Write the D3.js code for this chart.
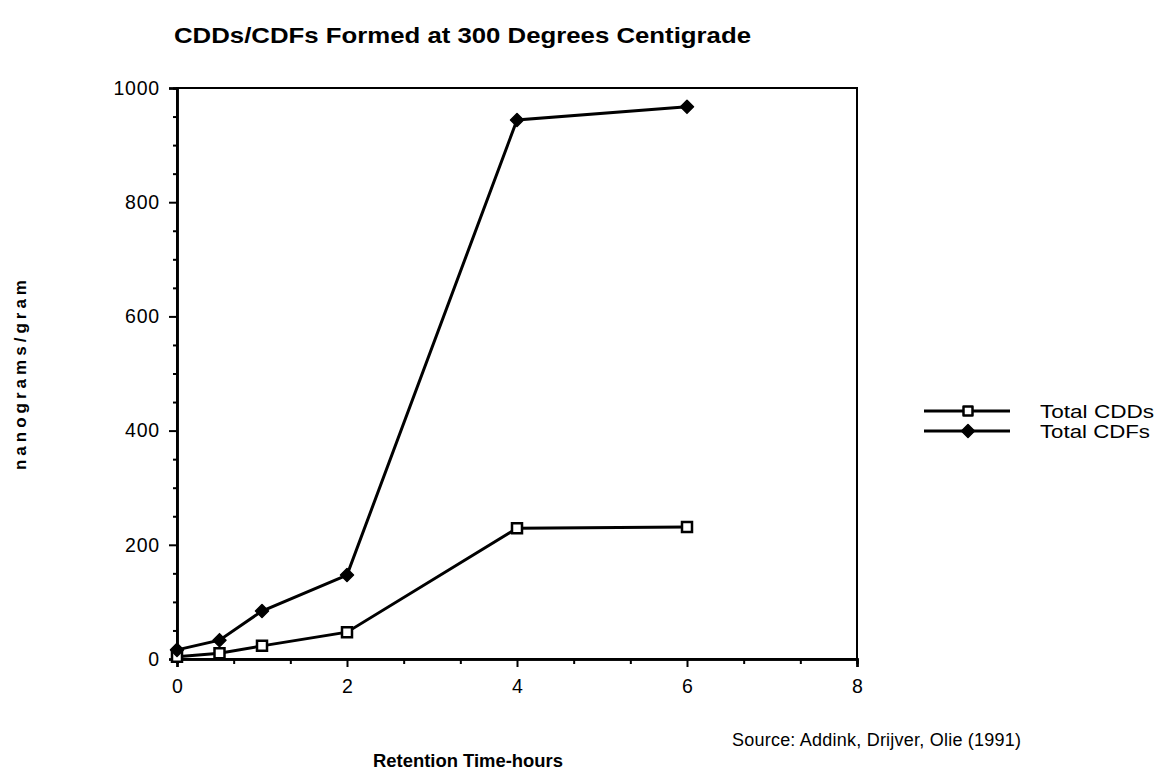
<!DOCTYPE html>
<html><head><meta charset="utf-8">
<script src="https://cdn.jsdelivr.net/npm/d3@7"></script>
<style>body{margin:0;background:#fff}svg{display:block}</style>
</head><body>
<script>
const hours = [0, 0.5, 1, 2, 4, 6];
const cdds = [4, 10, 23, 47, 229, 231];
const cdfs = [16, 33, 84, 147, 944, 967];
const seriesNames = ["Total CDDs", "Total CDFs"];
const xTicks = [0, 2, 4, 6, 8];
const yTicks = [0, 200, 400, 600, 800, 1000];
const titleText = "CDDs/CDFs Formed at 300 Degrees Centigrade";
const xLabel = "Retention Time-hours";
const yLabel = "nanograms/gram";
const sourceText = "Source: Addink, Drijver, Olie (1991)";

const W = 1162, H = 776;
const m = {l: 177, r: 857, t: 88, b: 659};
const svg = d3.select("body").append("svg").attr("width", W).attr("height", H);
const font = "Arial, 'Liberation Sans', Helvetica, sans-serif";

const x = d3.scaleLinear().domain([0, 8]).range([m.l, m.r]);
const y = d3.scaleLinear().domain([0, 1000]).range([m.b, m.t]);

// frame
svg.append("rect").attr("x", m.l).attr("y", m.t).attr("width", m.r - m.l).attr("height", m.b - m.t)
  .attr("fill", "none").attr("stroke", "#000").attr("stroke-width", 2);

// y axis
const yAx = svg.append("g").attr("transform", `translate(${m.l},0)`)
  .call(d3.axisLeft(y).tickValues(yTicks).tickSize(8).tickPadding(9).tickFormat(d3.format("d")));
const yMinor = svg.append("g").attr("transform", `translate(${m.l},0)`)
  .call(d3.axisLeft(y).tickValues(d3.range(0, 1001, 50).filter(v => v % 200 !== 0)).tickSize(4).tickFormat(""));
// x axis
const xAx = svg.append("g").attr("transform", `translate(0,${m.b})`)
  .call(d3.axisBottom(x).tickValues(xTicks).tickSize(8).tickPadding(12).tickFormat(d3.format("d")));
const xMinor = svg.append("g").attr("transform", `translate(0,${m.b})`)
  .call(d3.axisBottom(x).tickValues(d3.range(0, 12).map(i => i * 2 / 3).filter((v, i) => i % 3 !== 0 && v < 8)).tickSize(5).tickFormat(""));
[yAx, yMinor, xAx, xMinor].forEach(g => {
  g.select(".domain").attr("stroke", "#000").attr("stroke-width", 2.5);
  g.selectAll(".tick line").attr("stroke", "#000").attr("stroke-width", 2);
  g.selectAll("text").attr("font-family", font).attr("font-size", 19.5).attr("letter-spacing", 0.8).attr("fill", "#000");
});
xAx.selectAll("text").attr("dx", 0.4);

const line = d3.line().x(d => x(d[0])).y(d => y(d[1]));
const cddPts = hours.map((h, i) => [h, cdds[i]]);
const cdfPts = hours.map((h, i) => [h, cdfs[i]]);

svg.append("path").attr("d", line(cddPts)).attr("fill", "none").attr("stroke", "#000").attr("stroke-width", 3);
svg.append("path").attr("d", line(cdfPts)).attr("fill", "none").attr("stroke", "#000").attr("stroke-width", 3);

const sqPath = "M-5,-5H5V5H-5Z";
const diaPath = "M0,-6.5L6.5,0L0,6.5L-6.5,0Z";
svg.selectAll(".cdd").data(cddPts).join("path").attr("class", "cdd")
  .attr("transform", d => `translate(${x(d[0])},${y(d[1])})`).attr("d", sqPath)
  .attr("fill", "#fff").attr("stroke", "#000").attr("stroke-width", 2.5);
svg.selectAll(".cdf").data(cdfPts).join("path").attr("class", "cdf")
  .attr("transform", d => `translate(${x(d[0])},${y(d[1])})`).attr("d", diaPath)
  .attr("fill", "#000").attr("stroke", "#000").attr("stroke-width", 1.5).attr("stroke-linejoin", "round");

// legend
const lg = svg.append("g");
seriesNames.forEach((name, i) => {
  const ly = 411 + i * 20;
  lg.append("line").attr("x1", 924).attr("x2", 1010).attr("y1", ly).attr("y2", ly).attr("stroke", "#000").attr("stroke-width", 3);
  lg.append("path").attr("transform", `translate(968,${ly})`).attr("d", i === 0 ? "M-4.5,-4.5H4.5V4.5H-4.5Z" : diaPath)
    .attr("fill", i === 0 ? "#fff" : "#000").attr("stroke", "#000").attr("stroke-width", i === 0 ? 2.5 : 1.5).attr("stroke-linejoin", "round");
  lg.append("text").attr("x", 1040).attr("y", ly + 6.5).text(name)
    .attr("font-family", font).attr("font-size", 17.5).attr("textLength", i === 0 ? 114 : 110)
    .attr("lengthAdjust", "spacingAndGlyphs").attr("fill", "#000");
});

// title
svg.append("text").attr("x", 174).attr("y", 43).text(titleText)
  .attr("font-family", font).attr("font-weight", "bold").attr("font-size", 22).attr("textLength", 577)
  .attr("lengthAdjust", "spacingAndGlyphs").attr("fill", "#000");
// x label
svg.append("text").attr("x", 373).attr("y", 767).text(xLabel)
  .attr("font-family", font).attr("font-weight", "bold").attr("font-size", 18).attr("textLength", 190)
  .attr("lengthAdjust", "spacingAndGlyphs").attr("fill", "#000");
// y label
svg.append("text").attr("transform", "translate(26,470) rotate(-90)").text(yLabel)
  .attr("font-family", font).attr("font-weight", "bold").attr("font-size", 17).attr("textLength", 190).attr("fill", "#000");
// source
svg.append("text").attr("x", 732).attr("y", 746).text(sourceText)
  .attr("font-family", "'Liberation Sans Narrow', Arial, sans-serif").attr("font-size", 18).attr("textLength", 289).attr("fill", "#000");
</script>
</body></html>
